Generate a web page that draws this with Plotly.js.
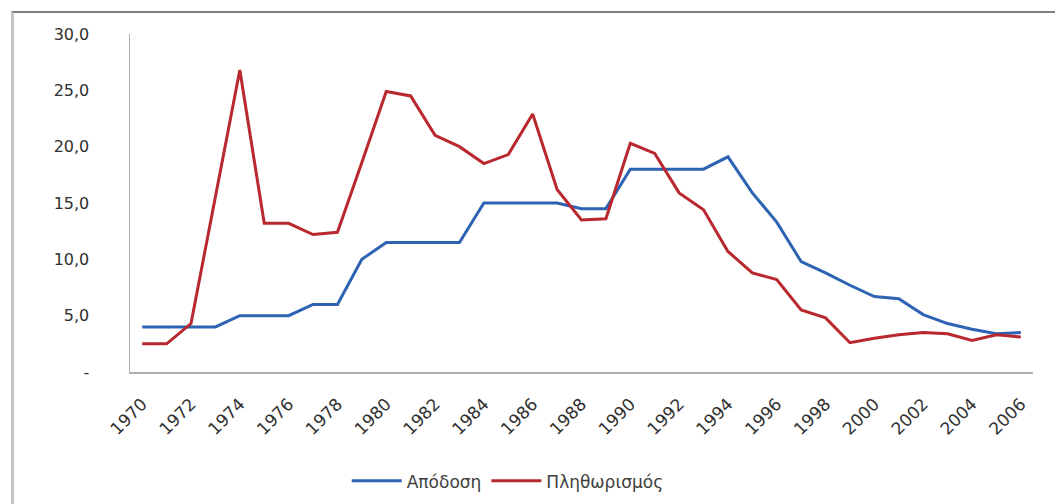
<!DOCTYPE html>
<html>
<head>
<meta charset="utf-8">
<script src="https://cdn.plot.ly/plotly-3.0.1.min.js"></script>
<style>
html,body{margin:0;padding:0;background:#fff;}
#wrap{position:relative;width:1055px;height:504px;overflow:hidden;}
#chart{position:absolute;left:0;top:0;width:1055px;height:504px;}
#frame{position:absolute;left:11px;top:11px;width:1100px;height:600px;border-left:3px solid #c4c4c4;border-top:2px solid #7f7f7f;pointer-events:none;}
</style>
</head>
<body>
<div id="wrap"><div id="chart"></div><div id="frame"></div></div>
<script>
const years = [1970,1971,1972,1973,1974,1975,1976,1977,1978,1979,1980,1981,1982,1983,1984,1985,1986,1987,1988,1989,1990,1991,1992,1993,1994,1995,1996,1997,1998,1999,2000,2001,2002,2003,2004,2005,2006];
const apodosi = [4.0,4.0,4.0,4.0,5.0,5.0,5.0,6.0,6.0,10.0,11.5,11.5,11.5,11.5,15.0,15.0,15.0,15.0,14.5,14.5,18.0,18.0,18.0,18.0,19.1,15.9,13.3,9.8,8.8,7.7,6.7,6.5,5.1,4.3,3.8,3.4,3.5];
const plithorismos = [2.5,2.5,4.3,15.4,26.8,13.2,13.2,12.2,12.4,18.6,24.9,24.5,21.0,20.0,18.5,19.3,22.9,16.2,13.5,13.6,20.3,19.4,15.9,14.4,10.7,8.8,8.2,5.5,4.8,2.6,3.0,3.3,3.5,3.4,2.8,3.3,3.1];
const yTickVals = [0,5,10,15,20,25,30];
const yTickText = ["-","5,0","10,0","15,0","20,0","25,0","30,0"];
const xTickVals = [1970,1972,1974,1976,1978,1980,1982,1984,1986,1988,1990,1992,1994,1996,1998,2000,2002,2004,2006];
const seriesNames = ["Απόδοση","Πληθωρισμός"];

const font = {family:"DejaVu Sans, Liberation Sans, sans-serif", size:16, color:"#404040"};

const traces = [
  {x:years, y:apodosi, name:seriesNames[0], type:"scatter", mode:"lines",
   line:{color:"#2E62B2", width:3}},
  {x:years, y:plithorismos, name:seriesNames[1], type:"scatter", mode:"lines",
   line:{color:"#B8282E", width:3}}
];

const layout = {
  width:1055, height:504,
  margin:{l:130, r:22, t:34, b:132},
  paper_bgcolor:"#ffffff", plot_bgcolor:"#ffffff",
  font:font,
  showlegend:true,
  legend:{orientation:"h", x:0.24, xanchor:"left", yref:"container", y:0.045, yanchor:"middle",
          font:{family:font.family, size:17, color:"#404040"}, itemwidth:50},
  xaxis:{range:[1969.5,2006.5], tickvals:xTickVals, ticktext:xTickVals.map(String),
         tickangle:-45, showgrid:false, zeroline:false, showline:true, automargin:false,
         linecolor:"#b0b0b0", linewidth:1.5, ticks:"", ticklabelstandoff:14,
         tickfont:{family:font.family, size:17, color:"#303030"}},
  yaxis:{range:[0,30], tickvals:yTickVals, ticktext:yTickText, showgrid:false, automargin:false,
         zeroline:false, showline:true, linecolor:"#b0b0b0", linewidth:1.5, ticks:"",
         ticklabelstandoff:36,
         tickfont:{family:font.family, size:16, color:"#303030"}}
};

Plotly.newPlot("chart", traces, layout, {displayModeBar:false, staticPlot:true});
</script>
</body>
</html>
